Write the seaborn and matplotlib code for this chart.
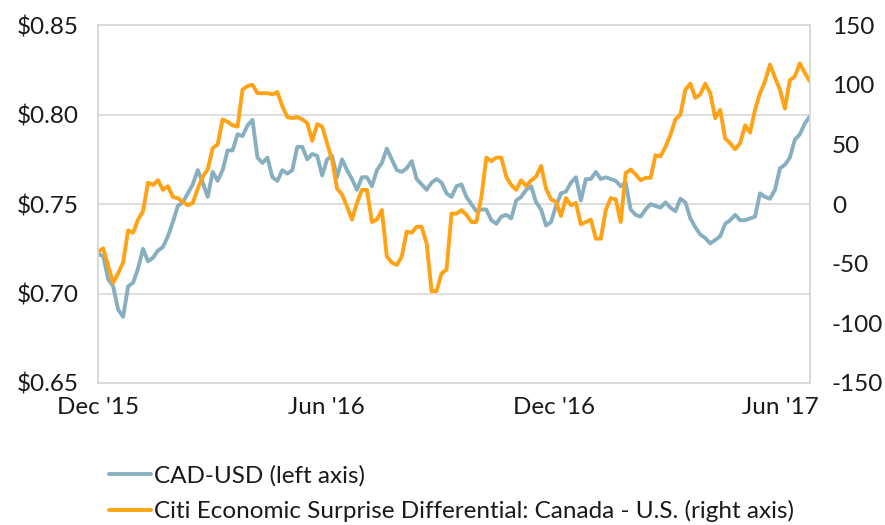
import pandas as pd
import numpy as np
import matplotlib
matplotlib.use("Agg")
import matplotlib.pyplot as plt
import seaborn as sns

# -----------------------------
# DATA (every 4 days from 1 Dec 2015)
# -----------------------------
start_date = "2015-12-01"
step = "4D"

cad_usd = [
    0.722, 0.721, 0.708, 0.704, 0.691, 0.687, 0.704, 0.706, 0.714, 0.725,
    0.718, 0.720, 0.724, 0.726, 0.732, 0.740, 0.749, 0.751, 0.756, 0.761,
    0.769, 0.762, 0.754, 0.768, 0.763, 0.769, 0.780, 0.780, 0.789, 0.788,
    0.794, 0.797, 0.776, 0.773, 0.776, 0.765,
    0.763, 0.769, 0.767, 0.769, 0.782, 0.782, 0.775, 0.778, 0.777, 0.766,
    0.775, 0.777, 0.765, 0.775, 0.769, 0.764, 0.758, 0.765, 0.765, 0.760,
    0.769, 0.773, 0.781, 0.775, 0.769, 0.768, 0.770, 0.774, 0.764, 0.761,
    0.758, 0.762, 0.764, 0.762, 0.756,
    0.754, 0.760, 0.761, 0.754, 0.750, 0.746, 0.747, 0.747, 0.741, 0.739,
    0.743, 0.744, 0.742, 0.752, 0.754, 0.758, 0.760, 0.751, 0.747, 0.738,
    0.740, 0.749, 0.756, 0.757, 0.762, 0.765, 0.752, 0.764, 0.764, 0.768,
    0.764, 0.765, 0.764, 0.763, 0.760,
    0.762, 0.747, 0.744, 0.743, 0.747, 0.750, 0.749, 0.748, 0.751, 0.748,
    0.746, 0.753, 0.751, 0.742, 0.737, 0.733, 0.731, 0.728, 0.730, 0.732,
    0.739, 0.741, 0.744, 0.741, 0.741, 0.742, 0.743, 0.756, 0.754, 0.753,
    0.758, 0.770, 0.772, 0.776, 0.786, 0.789, 0.795, 0.799,
]

citi_diff = [
    -40, -37, -52, -66, -58, -49, -22, -24, -13, -6,
    18, 16, 20, 12, 15, 6, 5, 2, -1, 1,
    13, 23, 29, 47, 50, 71, 69, 66, 65, 96,
    99, 100, 93, 93, 93, 92,
    94, 82, 73, 72, 73, 71, 68, 53, 67, 65,
    51, 37, 13, 8, -2, -13, 1, 12, 12, -15,
    -13, -5, -44, -49, -51, -44, -23, -24, -19, -19,
    -33, -73, -73, -58, -55,
    -8, -8, -5, -9, -15, -15, 6, 39, 36, 39,
    39, 23, 16, 12, 20, 15, 20, 23, 32, 13,
    4, 2, -10, 5, -1, 1, -17, -15, -13, -29,
    -29, -5, 5, 4, -15,
    26, 29, 25, 20, 22, 22, 41, 40, 48, 58,
    71, 75, 96, 101, 89, 92, 101, 93, 72, 79,
    55, 51, 46, 51, 66, 60, 79, 93, 103, 117,
    106, 96, 80, 104, 107, 118, 110, 103,
]

tick_dates = ["2015-12-01", "2016-06-01", "2016-12-01", "2017-06-01"]
tick_labels = ["Dec '15", "Jun '16", "Dec '16", "Jun '17"]
left_ticks = [0.65, 0.70, 0.75, 0.80, 0.85]
right_ticks = [-150, -100, -50, 0, 50, 100, 150]

cad_label = "CAD-USD (left axis)"
citi_label = "Citi Economic Surprise Differential: Canada - U.S. (right axis)"

dates = pd.date_range(start_date, periods=len(cad_usd), freq=step)
df = pd.DataFrame({"date": dates, "cad": cad_usd, "citi": citi_diff})

# -----------------------------
# STYLE
# -----------------------------
sns.set_theme(style="white")
plt.rcParams["font.family"] = ["Lato", "DejaVu Sans"]
plt.rcParams["axes.unicode_minus"] = False

blue = "#88AFC0"
orange = "#FFA215"
grid_col = "#D9D9D9"
text_col = "#1a1a1a"
fs = 17.5

fig = plt.figure(figsize=(8.85, 5.25), dpi=100)
ax = fig.add_axes([0.111, 0.2705, 0.804, 0.6815])
ax2 = ax.twinx()

# -----------------------------
# PLOT
# -----------------------------
sns.lineplot(data=df, x="date", y="cad", ax=ax, color=blue, linewidth=2.8,
             label=cad_label, legend=False)
sns.lineplot(data=df, x="date", y="citi", ax=ax2, color=orange, linewidth=2.8,
             label=citi_label, legend=False)

ax.set_ylim(0.65, 0.85)
ax2.set_ylim(-150, 150)
ax.set_xlim(df["date"].iloc[0], df["date"].iloc[-1])

ax.set_yticks(left_ticks)
ax.set_yticklabels([f"${v:.2f}" for v in left_ticks])
ax2.set_yticks(right_ticks)
ax2.set_yticklabels([str(v) for v in right_ticks])
ax.set_xticks(pd.to_datetime(tick_dates))
ax.set_xticklabels(tick_labels)

ax.set_xlabel("")
ax.set_ylabel("")
ax2.set_ylabel("")

ax.grid(axis="y", color=grid_col, linewidth=1.2)
ax.set_axisbelow(True)
for a in (ax, ax2):
    for s in a.spines.values():
        s.set_color(grid_col)
        s.set_linewidth(1.2)
    a.tick_params(length=0, labelsize=fs, colors=text_col)
ax.tick_params(axis="y", pad=14)
ax2.tick_params(axis="y", pad=16)
ax.tick_params(axis="x", pad=10)

# legend below the plot, two rows
handles = ax.get_lines()[:1] + ax2.get_lines()[:1]
fig.legend(handles, [cad_label, citi_label], loc="upper left",
           bbox_to_anchor=(0.112, 0.132), frameon=False, fontsize=fs,
           handlelength=1.75, handletextpad=0.1, labelspacing=0.55,
           borderaxespad=0, labelcolor=text_col)

fig.savefig("out.png", dpi=100)
